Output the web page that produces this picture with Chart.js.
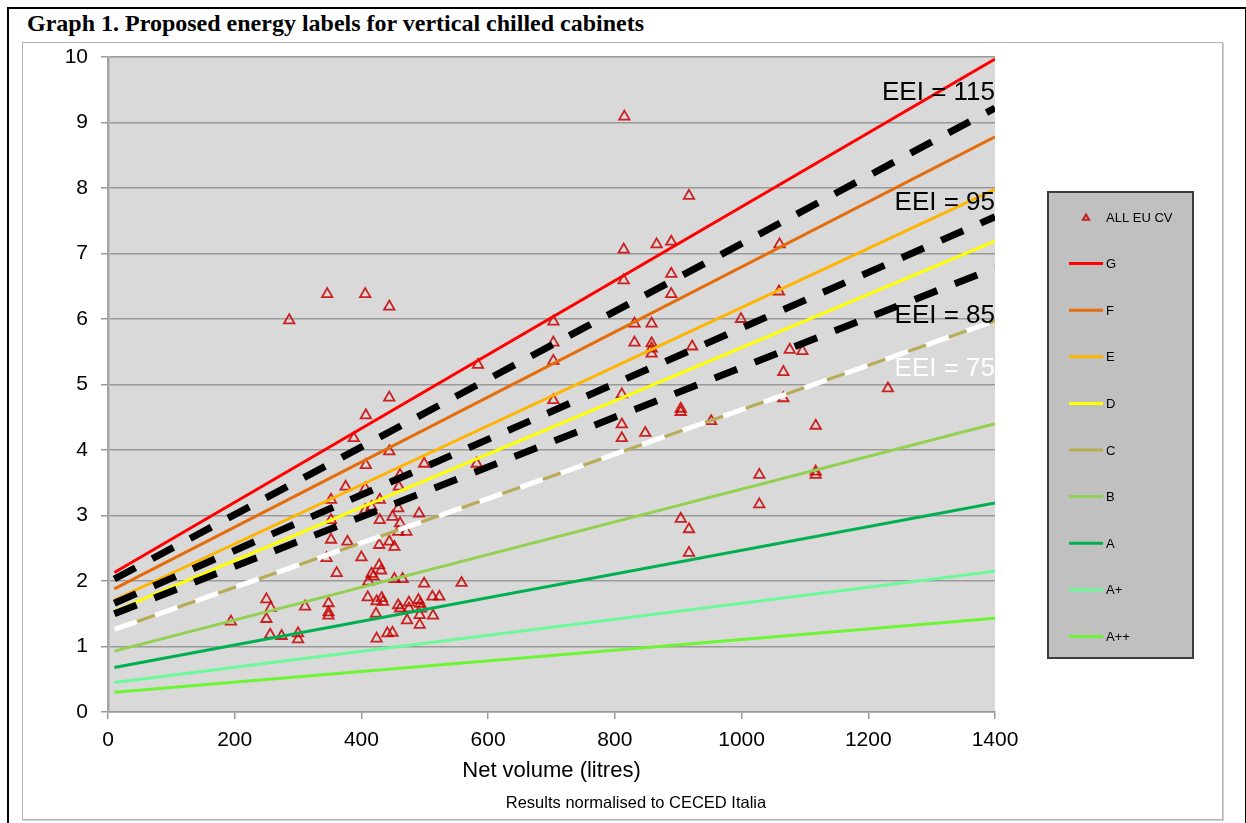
<!DOCTYPE html>
<html>
<head>
<meta charset="utf-8">
<title>Proposed energy labels for vertical chilled cabinets</title>
<script src="https://cdn.jsdelivr.net/npm/chart.js@4.4.1/dist/chart.umd.min.js"></script>
<style>
  html, body { margin: 0; padding: 0; background: #fff; }
  body { position: relative; width: 1246px; height: 823px; overflow: hidden; }
  #pageFrame { position: absolute; left: 7px; top: 7px; width: 1236px; height: 900px;
    border-top: 2px solid #000; border-left: 2px solid #000; border-right: 2px solid #000; }
  #chartFrame { position: absolute; left: 22px; top: 42px; width: 1199px; height: 776px;
    border: 1px solid #b4b4b4; box-shadow: 1px 1px 0 #d0d0d0; }
  #title { position: absolute; left: 27px; top: 11px; font: bold 24px/24px "Liberation Serif", "Times New Roman", serif;
    color: #000; white-space: nowrap; }
  #note { position: absolute; left: 336px; width: 600px; top: 794px; text-align: center;
    font: 16.5px/16px "Liberation Sans", Arial, sans-serif; color: #000; }
  #wrap { position: absolute; left: 0; top: 0; width: 1246px; height: 823px; }
</style>
</head>
<body>
<div id="pageFrame"></div>
<div id="chartFrame"></div>
<div id="title">Graph 1. Proposed energy labels for vertical chilled cabinets</div>
<div id="wrap"><canvas id="eeiChart"></canvas></div>
<div id="note">Results normalised to CECED Italia</div>

<script>
// measured cabinets (net volume in litres, normalised consumption)
const allEuVolume = [
  346, 406, 444, 286, 703, 703, 703, 584, 444, 703,
  407, 388, 444, 407, 499, 582, 461, 459, 375, 406,
  352, 429, 416, 406, 458, 491, 352, 429, 449, 461,
  471, 458, 352, 378, 428, 444, 452, 345, 400, 361,
  428, 416, 431, 411, 452, 465, 499, 558, 250, 257,
  311, 348, 348, 348, 410, 424, 432, 434, 458, 475,
  490, 493, 512, 523, 423, 472, 492, 492, 513, 194,
  250, 256, 274, 300, 300, 424, 441, 449, 461, 475,
  494, 419,
  815, 917, 814, 866, 889, 1060, 814, 889, 889, 1059,
  831, 858, 999, 831, 858, 858, 858, 922, 1076, 1096,
  1066, 1231, 811, 1066, 904, 904, 952, 811, 848, 811,
  1117, 1028, 1117, 1117, 1028, 904, 917, 917
];
const allEuKwh = [
  6.38, 6.38, 6.19, 5.98, 5.96, 5.64, 5.36, 5.30, 4.80, 4.76,
  4.53, 4.18, 3.98, 3.77, 3.79, 3.79, 3.62, 3.44, 3.44, 3.41,
  3.24, 3.24, 3.13, 3.08, 3.11, 3.03, 2.93, 2.93, 2.98, 2.88,
  2.75, 2.75, 2.63, 2.60, 2.55, 2.60, 2.52, 2.35, 2.36, 2.12,
  2.24, 2.11, 2.16, 1.99, 2.03, 2.03, 1.96, 1.97, 1.72, 1.59,
  1.61, 1.66, 1.52, 1.47, 1.75, 1.69, 1.74, 1.68, 1.63, 1.67,
  1.71, 1.65, 1.76, 1.76, 1.50, 1.40, 1.48, 1.33, 1.47, 1.38,
  1.42, 1.18, 1.16, 1.20, 1.11, 1.12, 1.20, 1.21, 1.58, 1.58,
  1.58, 2.07,
  9.09, 7.88, 7.06, 7.14, 7.18, 7.14, 6.59, 6.69, 6.38, 6.42,
  5.93, 5.93, 6.00, 5.64, 5.63, 5.55, 5.47, 5.58, 5.53, 5.51,
  5.19, 4.94, 4.85, 4.79, 4.58, 4.63, 4.44, 4.39, 4.26, 4.18,
  4.37, 3.62, 3.67, 3.62, 3.17, 2.95, 2.79, 2.43
];

// class limits, read at both ends of the volume range
const lineVolume = [10, 1400];
const classG = [2.13, 9.97];
const classF = [1.88, 8.78];
const classE = [1.71, 7.98];
const classD = [1.54, 7.19];
const classC = [1.26, 5.97];
const classB = [0.93, 4.40];
const classA = [0.68, 3.19];
const classAPlus = [0.45, 2.15];
const classAPlusPlus = [0.30, 1.43];

// EEI reference lines
const eei115 = [2.03, 9.22];
const eei95 = [1.66, 7.56];
const eei85 = [1.50, 6.78];
const eei75 = [1.26, 5.97];
const eeiLabels = ['EEI = 115', 'EEI = 95', 'EEI = 85', 'EEI = 75'];
const eeiLabelLevel = [9.45, 7.77, 6.05, 5.24];

const FONT = '"Liberation Sans", Arial, sans-serif';
Chart.defaults.font.family = FONT;
Chart.defaults.color = '#000';

function pts(ys) {
  return lineVolume.map((x, i) => ({ x: x, y: ys[i] }));
}

function classLine(label, ys, color, order) {
  return {
    label: label, data: pts(ys), showLine: true, borderColor: color, backgroundColor: color,
    borderWidth: 3, pointRadius: 0, order: order, legend: true
  };
}

function eeiLine(label, ys, color, width, order) {
  return {
    label: label, data: pts(ys), showLine: true, borderColor: color, borderWidth: width,
    borderDash: [24, 19], borderCapStyle: 'butt', pointRadius: 0, order: order, legend: false
  };
}

const scatterPoints = allEuVolume.map((v, i) => ({ x: v, y: allEuKwh[i] }));

const datasets = [
  {
    label: 'ALL EU CV', data: scatterPoints, showLine: false, pointStyle: 'triangle',
    pointRadius: 6, pointBorderWidth: 1.8, pointBorderColor: 'rgba(200,0,0,0.85)',
    pointBackgroundColor: 'rgba(0,0,0,0)', order: 5, legend: true
  },
  classLine('G', classG, '#ff0000', 4),
  classLine('F', classF, '#e46c0a', 4),
  classLine('E', classE, '#ffb400', 4),
  classLine('D', classD, '#ffff00', 4),
  classLine('C', classC, '#b8ab55', 4),
  classLine('B', classB, '#92d050', 4),
  classLine('A', classA, '#00b050', 4),
  classLine('A+', classAPlus, '#6cf99a', 4),
  classLine('A++', classAPlusPlus, '#6cf532', 4),
  eeiLine('EEI 75', eei75, '#ffffff', 5, 2),
  eeiLine('EEI 85', eei85, '#000000', 7, 1),
  eeiLine('EEI 95', eei95, '#000000', 7, 1),
  eeiLine('EEI 115', eei115, '#000000', 7, 1)
];

const plotBackground = {
  id: 'plotBackground',
  beforeDraw(chart) {
    const a = chart.chartArea, ctx = chart.ctx;
    ctx.save();
    ctx.fillStyle = '#d9d9d9';
    ctx.fillRect(a.left, a.top, a.right - a.left, a.bottom - a.top);
    ctx.restore();
  }
};

const eeiText = {
  id: 'eeiText',
  afterDatasetsDraw(chart) {
    const ctx = chart.ctx, xs = chart.scales.x, ys = chart.scales.y;
    const colors = ['#000', '#000', '#000', '#fff'];
    ctx.save();
    ctx.font = '26px ' + FONT;
    ctx.textAlign = 'right';
    ctx.textBaseline = 'middle';
    eeiLabels.forEach((t, i) => {
      ctx.fillStyle = colors[i];
      ctx.fillText(t, xs.getPixelForValue(1400), ys.getPixelForValue(eeiLabelLevel[i]));
    });
    ctx.restore();
  }
};

const legendBox = {
  id: 'legendBox',
  afterDraw(chart) {
    const ctx = chart.ctx;
    ctx.save();
    ctx.fillStyle = '#c0c0c0';
    ctx.fillRect(1048, 192, 145, 466);
    ctx.strokeStyle = '#3c3c3c';
    ctx.lineWidth = 2;
    ctx.strokeRect(1048, 192, 145, 466);
    ctx.font = '13px ' + FONT;
    ctx.textBaseline = 'middle';
    chart.data.datasets.filter(d => d.legend).forEach((d, i) => {
      const y = 217 + i * 46.6;
      if (d.showLine) {
        ctx.strokeStyle = d.borderColor;
        ctx.lineWidth = 3;
        ctx.beginPath();
        ctx.moveTo(1069, y);
        ctx.lineTo(1103, y);
        ctx.stroke();
      } else {
        ctx.strokeStyle = d.pointBorderColor;
        ctx.fillStyle = 'rgba(0,0,0,0)';
        Chart.helpers.drawPoint(ctx, { pointStyle: 'triangle', rotation: 0, radius: 3.6, borderWidth: 1.4 }, 1086, y + 1);
      }
      ctx.fillStyle = '#000';
      ctx.fillText(d.label, 1106, y + 1);
    });
    ctx.restore();
  }
};

new Chart(document.getElementById('eeiChart'), {
  type: 'scatter',
  data: { datasets: datasets },
  plugins: [plotBackground, eeiText, legendBox],
  options: {
    responsive: true,
    maintainAspectRatio: false,
    animation: false,
    layout: { padding: { left: 0, top: 57, right: 251, bottom: 0 } },
    plugins: { legend: { display: false }, tooltip: { enabled: false } },
    scales: {
      x: {
        type: 'linear', min: 0, max: 1400,
        afterFit: s => { s.height = 111; },
        ticks: { stepSize: 200, padding: 9, font: { size: 21 }, color: '#000', callback: v => String(v) },
        grid: { drawOnChartArea: false, drawTicks: true, tickLength: 7, color: '#9a9a9a', lineWidth: 1.5 },
        border: { color: '#9a9a9a', width: 1.5 },
        title: { display: true, text: 'Net volume (litres)', font: { size: 22 }, color: '#000',
          padding: { top: 0, bottom: 39 } }
      },
      y: {
        type: 'linear', min: 0, max: 10,
        afterFit: s => { s.width = 108; },
        ticks: { stepSize: 1, padding: 13, font: { size: 21 }, color: '#000', callback: v => String(v) },
        grid: { color: '#9a9a9a', lineWidth: 1.5, drawTicks: true, tickLength: 7 },
        border: { color: '#a6a6a6', width: 2.5 }
      }
    }
  }
});
</script>
</body>
</html>
